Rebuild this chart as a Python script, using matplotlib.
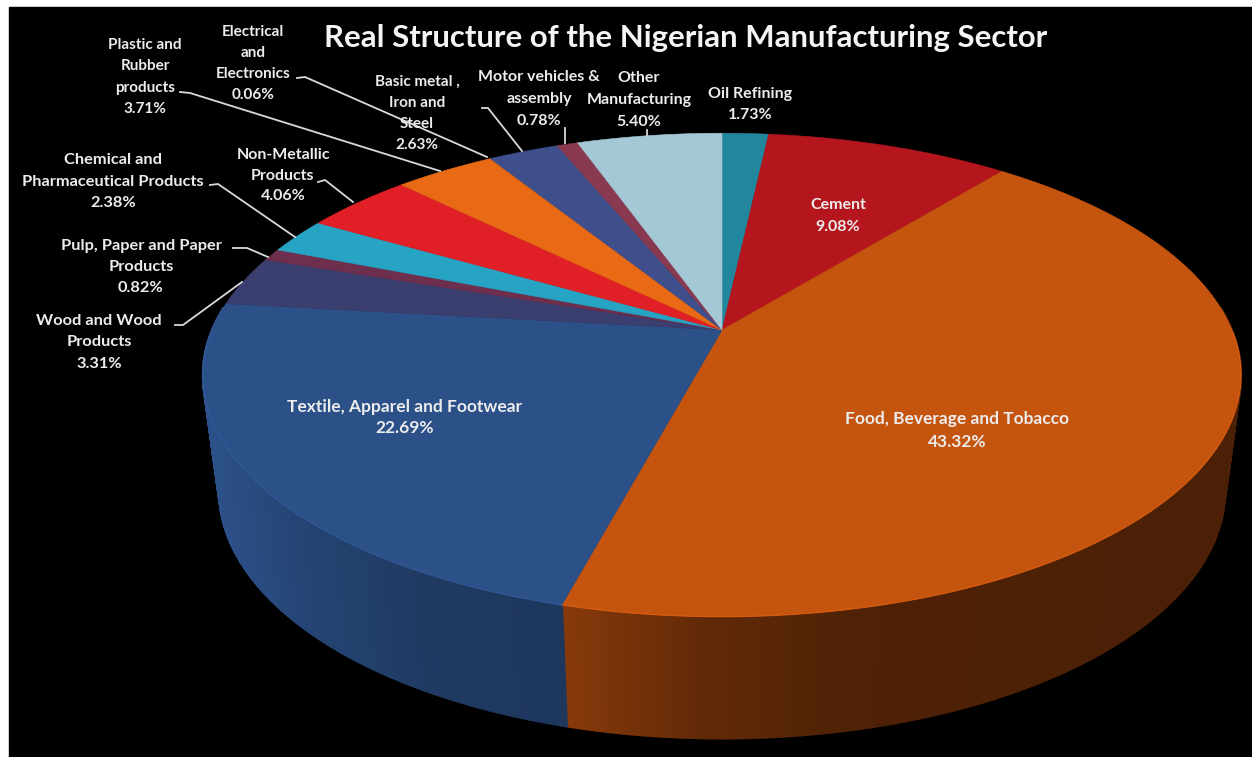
import numpy as np
import matplotlib
matplotlib.use('Agg')
import matplotlib.pyplot as plt
from matplotlib.colors import to_rgb
from matplotlib.patches import Rectangle

plt.rcParams['font.family'] = ['Lato', 'DejaVu Sans']

# Slices run clockwise from twelve o'clock
sectors = ['Oil Refining', 'Cement', 'Food, Beverage and Tobacco',
           'Textile, Apparel and Footwear', 'Wood and Wood\nProducts',
           'Pulp, Paper and Paper\nProducts',
           'Chemical and\nPharmaceutical Products',
           'Non-Metallic\nProducts', 'Plastic and\nRubber\nproducts',
           'Electrical\nand\nElectronics', 'Basic metal ,\nIron and\nSteel',
           'Motor vehicles &\nassembly', 'Other\nManufacturing']
shares = [1.73, 9.08, 43.32, 22.69, 3.31, 0.82, 2.38, 4.06, 3.71, 0.06, 2.63, 0.78, 5.40]
colors = ['#22869f', '#b5161e', '#c5540f', '#2c5088', '#3a3f70', '#6e2f4e',
          '#27a3c4', '#e01f26', '#e86a14', '#e86a14', '#3f4f8c', '#8a3a50', '#a5c8d6']

# label centre and line spacing for each sector
label_x = [750, 838, 957, 405, 99, 141, 113, 283, 145, 253, 417, 539, 639]
label_top = [94, 205, 419, 407, 321, 246, 160, 155, 45, 32, 82, 77, 78]
label_step = [21, 22, 23, 21, 21.5, 21, 21.5, 20.5, 21.3, 21, 21, 22, 22]
label_size = [11.5, 11.5, 12.5, 12.5, 11.8, 11.8, 11.8, 11.5, 11, 11, 11, 11.5, 11.5]

leaders = [
    [(180, 92), (190, 93), (440, 171)],
    [(297, 78), (305, 77), (487, 157)],
    [(210, 185), (218, 184), (295, 237)],
    [(318, 182), (325, 180), (353, 202)],
    [(233, 248), (247, 248), (268, 257)],
    [(175, 325), (183, 325), (242, 282)],
    [(482, 108), (488, 108), (522, 151)],
    [(565, 128), (565, 143)],
    [(647, 130), (647, 135)],
]

# perspective of the disc: centre column, radius, tilt and vertical terms
CX = 722
TILT = 0.186
TOP_R, TOP_A, TOP_B = 510, -172, 330
BASE_R, BASE_A, BASE_B = 494, -156, 445


def project(theta, radius, a, b):
    u, v = np.sin(theta), np.cos(theta)
    den = 1 + TILT * v
    return CX + radius * u / den, (a * v + b) / den


def side_shade(x):
    return np.interp(x, [205, 300, 420, 566, 700, 850, 1240],
                     [1.0, 0.85, 0.72, 0.68, 0.5, 0.4, 0.38])


fig = plt.figure(figsize=(12.52, 7.57), dpi=100, facecolor='white')
ax = fig.add_axes([0, 0, 1, 1])
ax.set_xlim(0, 1252)
ax.set_ylim(757, 0)
ax.axis('off')
ax.add_patch(Rectangle((9, 7), 1243, 750, color='black', zorder=0))

edges = np.cumsum([0] + shares) / sum(shares) * 2 * np.pi

# side wall first, in thin strips so the shade can change along it
for i, col in enumerate(colors):
    n = max(int((edges[i + 1] - edges[i]) * 120), 2)
    t = np.linspace(edges[i], edges[i + 1], n + 1)
    for t0, t1 in zip(t[:-1], t[1:]):
        if np.cos((t0 + t1) / 2) > 0.1:
            continue
        xt, yt = project(np.array([t0, t1]), TOP_R, TOP_A, TOP_B)
        xb, yb = project(np.array([t1, t0]), BASE_R, BASE_A, BASE_B)
        shade = side_shade(xt.mean())
        rgb = np.clip(np.array(to_rgb(col)) * shade, 0, 1)
        ax.fill(np.r_[xt, xb], np.r_[yt, yb], color=rgb, lw=1.6, zorder=1)

# top face
for i, col in enumerate(colors):
    t = np.linspace(edges[i], edges[i + 1], 200)
    x, y = project(t, TOP_R, TOP_A, TOP_B)
    ax.fill(np.r_[CX, x], np.r_[TOP_B, y], color=col, lw=0.4, zorder=2)
    # lighter rim along the front edge
    front = np.cos(t) < 0
    if front.any():
        rim = np.clip(np.array(to_rgb(col)) * 1.2, 0, 1)
        ax.plot(x[front], y[front], color=rim, lw=0.9, alpha=0.6, zorder=3)

for line in leaders:
    xs, ys = zip(*line)
    ax.plot(xs, ys, color='#d9d9d9', lw=1.3, zorder=4)

for name, share, lx, ly, step, size in zip(sectors, shares, label_x, label_top, label_step, label_size):
    rows = name.split('\n') + [f'{share:.2f}%']
    for k, row in enumerate(rows):
        ax.text(lx, ly + k * step, row, color='#ececec', fontsize=size, fontweight='bold',
                ha='center', va='center', zorder=5)

ax.text(686, 38, 'Real Structure of the Nigerian Manufacturing Sector', color='#f4f4f4',
        fontsize=22.4, fontweight='bold', ha='center', va='center', zorder=5)

fig.savefig('out.png', dpi=100)
